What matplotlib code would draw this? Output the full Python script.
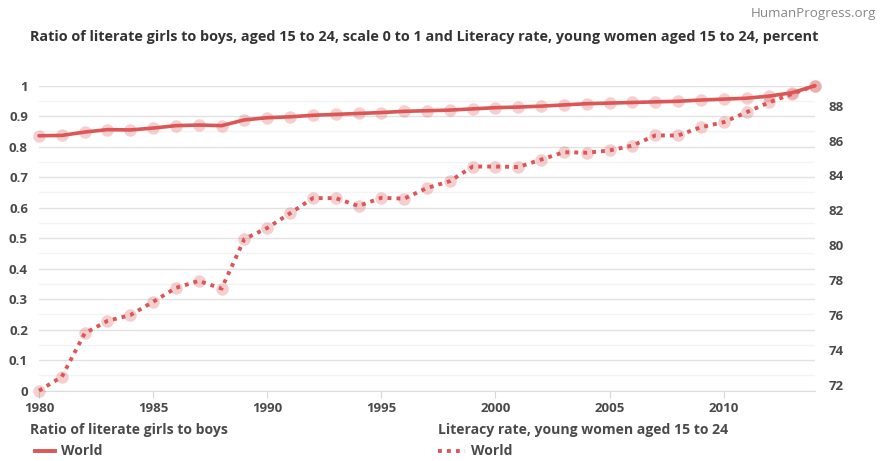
import matplotlib
matplotlib.use('Agg')
import matplotlib.pyplot as plt
from matplotlib.lines import Line2D
from matplotlib.ticker import MultipleLocator

plt.rcParams['font.family'] = ['Open Sans', 'DejaVu Sans']

years = list(range(1980, 2015))
ratio = [0.836, 0.837, 0.848, 0.856, 0.855, 0.861, 0.869, 0.871, 0.869, 0.888,
         0.895, 0.898, 0.903, 0.906, 0.909, 0.912, 0.916, 0.918, 0.920, 0.924,
         0.928, 0.930, 0.933, 0.937, 0.941, 0.943, 0.945, 0.947, 0.949, 0.953,
         0.956, 0.959, 0.966, 0.977, 1.000]
literacy = [71.67, 72.47, 74.95, 75.67, 76.00, 76.76, 77.56, 77.96, 77.52, 80.36,
            80.99, 81.83, 82.70, 82.70, 82.25, 82.72, 82.67, 83.28, 83.67, 84.51,
            84.51, 84.48, 84.91, 85.33, 85.30, 85.43, 85.71, 86.29, 86.29, 86.76,
            87.05, 87.62, 88.19, 88.67, 89.14]
x_ticks = [1980, 1985, 1990, 1995, 2000, 2005, 2010]
left_ticks = [0, 0.1, 0.2, 0.3, 0.4, 0.5, 0.6, 0.7, 0.8, 0.9, 1]
left_labels = ['0', '0.1', '0.2', '0.3', '0.4', '0.5', '0.6', '0.7', '0.8', '0.9', '1']
right_ticks = [72, 74, 76, 78, 80, 82, 84, 86, 88]

title = ("Ratio of literate girls to boys, aged 15 to 24, scale 0 to 1 and "
         "Literacy rate, young women aged 15 to 24, percent")
legend1 = "Ratio of literate girls to boys"
legend2 = "Literacy rate, young women aged 15 to 24"
series_name = "World"

W, H = 880, 461
color = '#dc5656'
txt = '#4a4a4a'

fig = plt.figure(figsize=(W / 100, H / 100), dpi=100)
fig.patch.set_facecolor('white')

x0, x1 = 39, 815
y_top, y_bot = 85.7, 390.7
ax = fig.add_axes([x0 / W, (H - y_bot) / H, (x1 - x0) / W, (y_bot - y_top) / H])
ax2 = ax.twinx()

ax.set_xlim(1980, 2014)
ax.set_ylim(0, 1)
ax2.set_ylim(min(literacy), max(literacy))

# grid
ax.yaxis.set_minor_locator(MultipleLocator(0.05))
ax.grid(True, axis='y', which='major', color='#e2e2e2', lw=1.0)
ax.grid(True, axis='y', which='minor', color='#f3f3f3', lw=1.0)
ax.set_axisbelow(True)

for a in (ax, ax2):
    for s in a.spines.values():
        s.set_visible(False)
ax.spines['bottom'].set_visible(True)
ax.spines['bottom'].set_color('#dddddd')

ax.set_yticks(left_ticks)
ax.set_yticklabels(left_labels)
ax.tick_params(axis='y', which='both', length=0, pad=8, labelsize=9.5, labelcolor=txt)
ax.set_xticks(x_ticks)
ax.tick_params(axis='x', length=5, color='#d8d8d8', pad=3, labelsize=9.5, labelcolor=txt)
ax2.set_yticks(right_ticks)
ax2.tick_params(axis='y', length=0, pad=10, labelsize=9.5, labelcolor=txt)
for lab in ax.get_xticklabels() + ax.get_yticklabels() + ax2.get_yticklabels():
    lab.set_fontweight('bold')

# ratio series (solid)
ax.plot(years, ratio, linestyle='none', marker='o', markersize=9,
        markerfacecolor=color, markeredgecolor='none', alpha=0.28, clip_on=False, zorder=3)
ax.plot(years, ratio, color=color, lw=2.6, solid_capstyle='round', clip_on=False, zorder=4)

# literacy series (dotted)
ax2.plot(years, literacy, linestyle='none', marker='o', markersize=9,
         markerfacecolor=color, markeredgecolor='none', alpha=0.28, clip_on=False, zorder=3)
ax2.plot(years, literacy, color=color, lw=2.8, linestyle=(0, (1, 1.3)),
         dash_capstyle='butt', clip_on=False, zorder=4)

def fx(px):
    return px / W

def fy(py):
    return 1 - py / H

fig.text(fx(876), fy(13), "HumanProgress.org", ha='right', va='center',
         fontsize=9.6, color='#888888')
fig.text(fx(30), fy(37), title, ha='left', va='center', fontsize=10.4,
         fontweight='bold', color='#333333')

# legends
fig.text(fx(30), fy(430), legend1, ha='left', va='center', fontsize=10.1,
         fontweight='bold', color=txt)
fig.add_artist(Line2D([fx(35), fx(55)], [fy(451), fy(451)], color=color, lw=2.8,
                      transform=fig.transFigure))
fig.text(fx(61), fy(451), series_name, ha='left', va='center', fontsize=10.1,
         fontweight='bold', color=txt)

fig.text(fx(438), fy(430), legend2, ha='left', va='center', fontsize=10.1,
         fontweight='bold', color=txt)
fig.add_artist(Line2D([fx(438), fx(465)], [fy(451), fy(451)], color=color, lw=2.8,
                      linestyle=(0, (1, 1.3)), dash_capstyle='butt',
                      transform=fig.transFigure))
fig.text(fx(471), fy(451), series_name, ha='left', va='center', fontsize=10.1,
         fontweight='bold', color=txt)

fig.savefig('out.png', dpi=100, facecolor='white')
